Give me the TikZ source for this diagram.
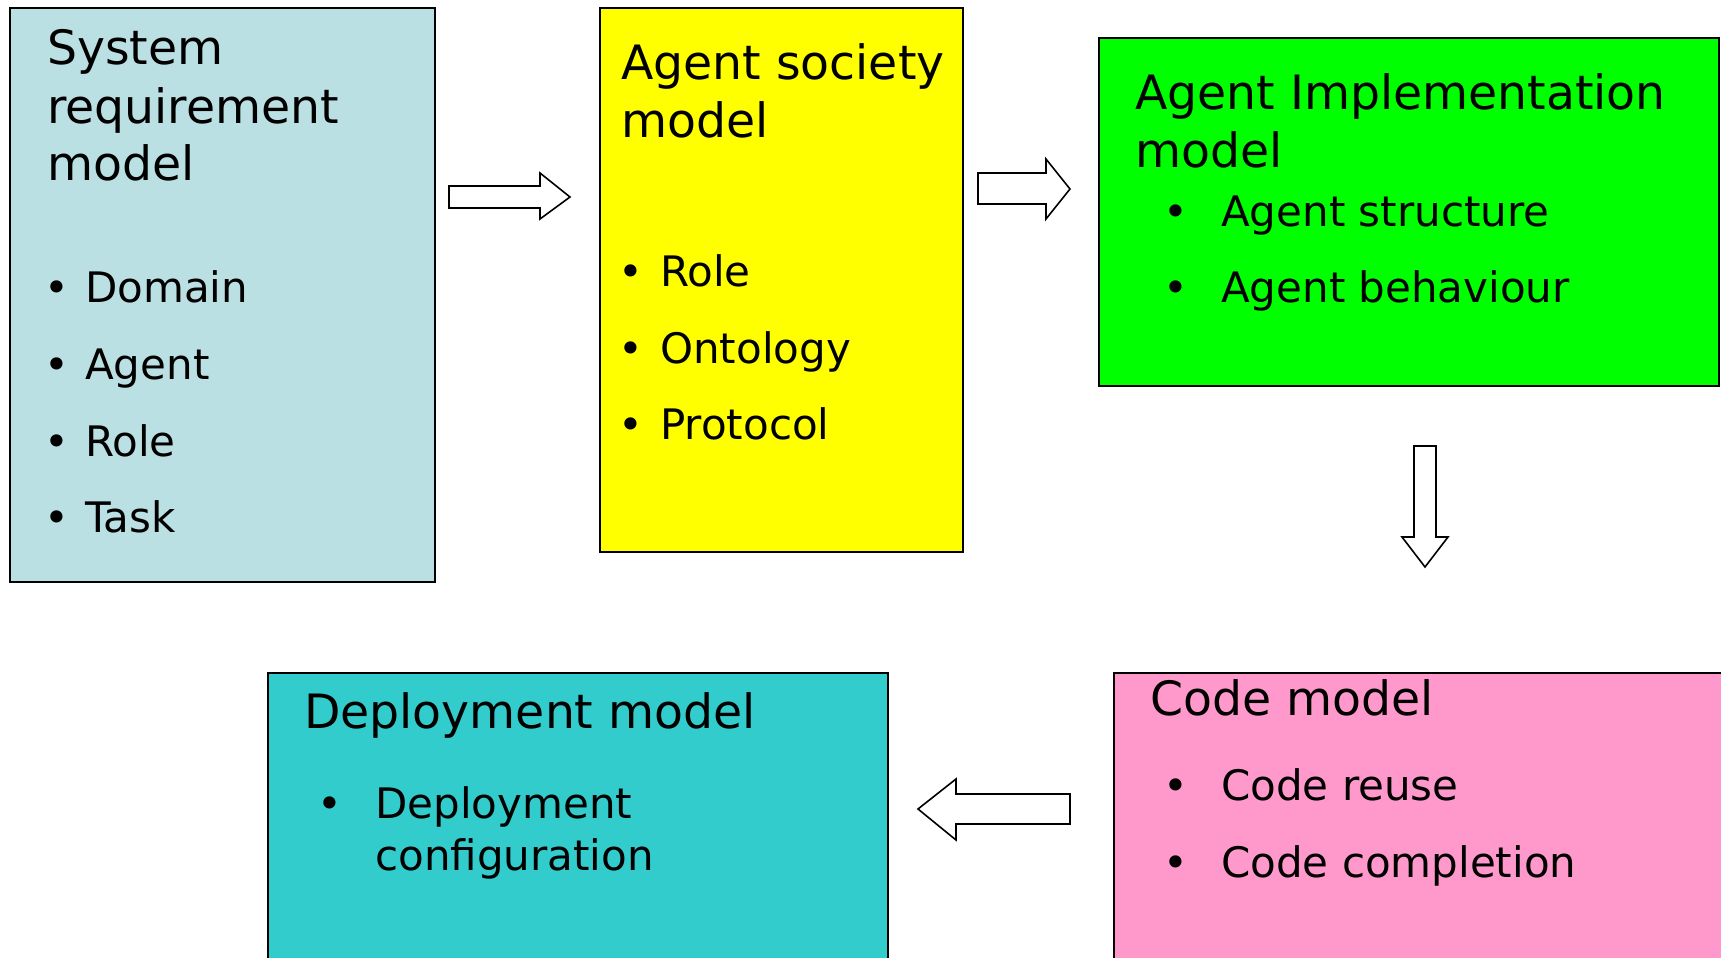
\documentclass[tikz,border=0pt]{standalone}
\usepackage{fontspec}
\setmainfont{DejaVu Sans}
\definecolor{reqblue}{HTML}{BBE0E3}
\definecolor{socyellow}{HTML}{FFFF00}
\definecolor{implgreen}{HTML}{00FF00}
\definecolor{deploycyan}{HTML}{33CCCC}
\definecolor{codepink}{HTML}{FF99CC}
\tikzset{
  panel/.style={draw=black, line width=1.8pt},
  title/.style={anchor=base west, inner sep=0pt, font=\fontsize{47.3}{57}\selectfont},
  item/.style={anchor=base west, inner sep=0pt, font=\fontsize{42}{50}\selectfont},
  bul/.style={anchor=base, inner sep=0pt, font=\fontsize{42}{50}\selectfont},
  blockarrow/.style={draw=black, fill=white, line width=1.6pt, line join=miter},
}
\begin{document}
\begin{tikzpicture}[x=1pt, y=-1pt]
\useasboundingbox (0,0) rectangle (1721,958);
\clip (0,0) rectangle (1721,958);
\fill[white] (0,0) rectangle (1721,958);

% model panels
\draw[panel, fill=reqblue]    (10,8)    rectangle (435,582);
\draw[panel, fill=socyellow]  (600,8)   rectangle (963,552);
\draw[panel, fill=implgreen]  (1099,38) rectangle (1719,386);
\draw[panel, fill=deploycyan] (268,673) rectangle (888,980);
\draw[panel, fill=codepink]   (1114,673) rectangle (1740,980);

% system requirement model
\node[title] (sr1) at (47,65)  {System};
\node[title] (sr2) at (47,123) {requirement};
\node[title] (sr3) at (47,180) {model};
\node[bul]  (srb1) at (57,302) {•};
\node[item] (sri1) at (85,302) {Domain};
\node[bul]  (srb2) at (57,379) {•};
\node[item] (sri2) at (85,379) {Agent};
\node[bul]  (srb3) at (57,456) {•};
\node[item] (sri3) at (85,456) {Role};
\node[bul]  (srb4) at (57,532) {•};
\node[item] (sri4) at (85,532) {Task};

% agent society model
\node[title] (as1) at (621,80)  {Agent society};
\node[title] (as2) at (621,137) {model};
\node[bul]  (asb1) at (631,286) {•};
\node[item] (asi1) at (660,286) {Role};
\node[bul]  (asb2) at (631,363) {•};
\node[item] (asi2) at (660,363) {Ontology};
\node[bul]  (asb3) at (631,439) {•};
\node[item] (asi3) at (660,439) {Protocol};

% agent implementation model
\node[title] (ai1) at (1135,109) {Agent Implementation};
\node[title] (ai2) at (1135,167) {model};
\node[bul]  (aib1) at (1176,226) {•};
\node[item] (aii1) at (1221,226) {Agent structure};
\node[bul]  (aib2) at (1176,302) {•};
\node[item] (aii2) at (1221,302) {Agent behaviour};

% code model
\node[title] (cm1) at (1150,715) {Code model};
\node[bul]  (cmb1) at (1176,800) {•};
\node[item] (cmi1) at (1221,800) {Code reuse};
\node[bul]  (cmb2) at (1176,877) {•};
\node[item] (cmi2) at (1221,877) {Code completion};

% deployment model
\node[title] (dm1) at (304,728) {Deployment model};
\node[bul]  (dmb1) at (330,818) {•};
\node[item] (dmi1) at (375,818) {Deployment};
\node[item] (dmi2) at (375,870) {configuration};

% block arrows between the stages
\draw[blockarrow] (449,186) -- (540,186) -- (540,173) -- (570,197)
  -- (540,219) -- (540,208) -- (449,208) -- cycle;
\draw[blockarrow] (978,173) -- (1046,173) -- (1046,159) -- (1070,189)
  -- (1046,219) -- (1046,204) -- (978,204) -- cycle;
\draw[blockarrow] (1414,446) -- (1436,446) -- (1436,537) -- (1448,537)
  -- (1425,567) -- (1402,537) -- (1414,537) -- cycle;
\draw[blockarrow] (1070,794) -- (956,794) -- (956,779) -- (918,809)
  -- (956,840) -- (956,824) -- (1070,824) -- cycle;
\end{tikzpicture}
\end{document}
